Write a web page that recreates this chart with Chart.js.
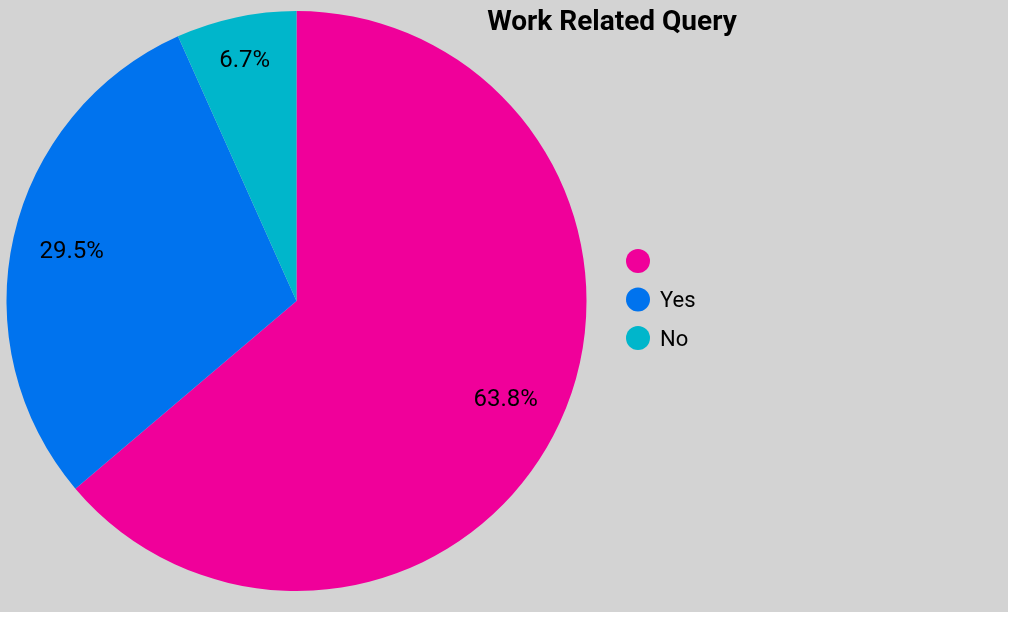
<!DOCTYPE html>
<html>
<head>
<meta charset="utf-8">
<script src="https://cdn.jsdelivr.net/npm/chart.js@4/dist/chart.umd.min.js"></script>
<style>
  body { margin: 0; background: #fff; }
  .chart-box { width: 1008px; height: 612px; background: #d3d3d3; }
</style>
</head>
<body>
<div class="chart-box">
  <canvas id="myChart" width="1008" height="612"></canvas>
</div>
<script>
// Answers to the "work related" question, in percent
const categories = ["", "Yes", "No"];
const shares = [63.8, 29.5, 6.7];
const sliceColors = ["#f0009a", "#0073ee", "#00b6cb"];
const chartTitle = "Work Related Query";

// Percent text inside each slice
const sliceLabels = {
  id: "sliceLabels",
  afterDatasetsDraw(chart) {
    const ctx = chart.ctx;
    const meta = chart.getDatasetMeta(0);
    ctx.save();
    ctx.font = "24px Roboto";
    ctx.fillStyle = "#000";
    ctx.textAlign = "center";
    ctx.textBaseline = "middle";
    meta.data.forEach((arc, i) => {
      const mid = (arc.startAngle + arc.endAngle) / 2;
      // thin slices get their text pushed further out
      const r = arc.outerRadius * (shares[i] < 10 ? 0.855 : 0.795);
      const x = arc.x + Math.cos(mid) * r;
      const y = arc.y + Math.sin(mid) * r;
      ctx.fillText(shares[i].toFixed(1) + "%", x, y + 2);
    });
    ctx.restore();
  },
};

// Title and the dot legend on the right side
const sideText = {
  id: "sideText",
  afterDraw(chart) {
    const ctx = chart.ctx;
    ctx.save();
    ctx.fillStyle = "#000";
    ctx.font = "bold 28px Roboto";
    ctx.textAlign = "center";
    ctx.textBaseline = "middle";
    ctx.fillText(chartTitle, 612, 23);

    ctx.font = "22px Roboto";
    ctx.textAlign = "left";
    categories.forEach((name, i) => {
      const y = 261 + i * 38.5;
      ctx.beginPath();
      ctx.arc(638, y, 12, 0, Math.PI * 2);
      ctx.fillStyle = sliceColors[i];
      ctx.fill();
      ctx.fillStyle = "#000";
      ctx.fillText(name, 660, y + 2);
    });
    ctx.restore();
  },
};

const ctx = document.getElementById("myChart").getContext("2d");
const myChart = new Chart(ctx, {
  type: "pie",
  data: {
    labels: categories,
    datasets: [
      {
        data: shares,
        backgroundColor: sliceColors,
        borderWidth: 0,
      },
    ],
  },
  options: {
    responsive: false,
    animation: false,
    layout: {
      padding: { left: 6.5, right: 421.5, top: 11, bottom: 21 },
    },
    plugins: {
      legend: { display: false },
      title: { display: false },
      tooltip: { enabled: false },
    },
  },
  plugins: [sliceLabels, sideText],
});
</script>
</body>
</html>
